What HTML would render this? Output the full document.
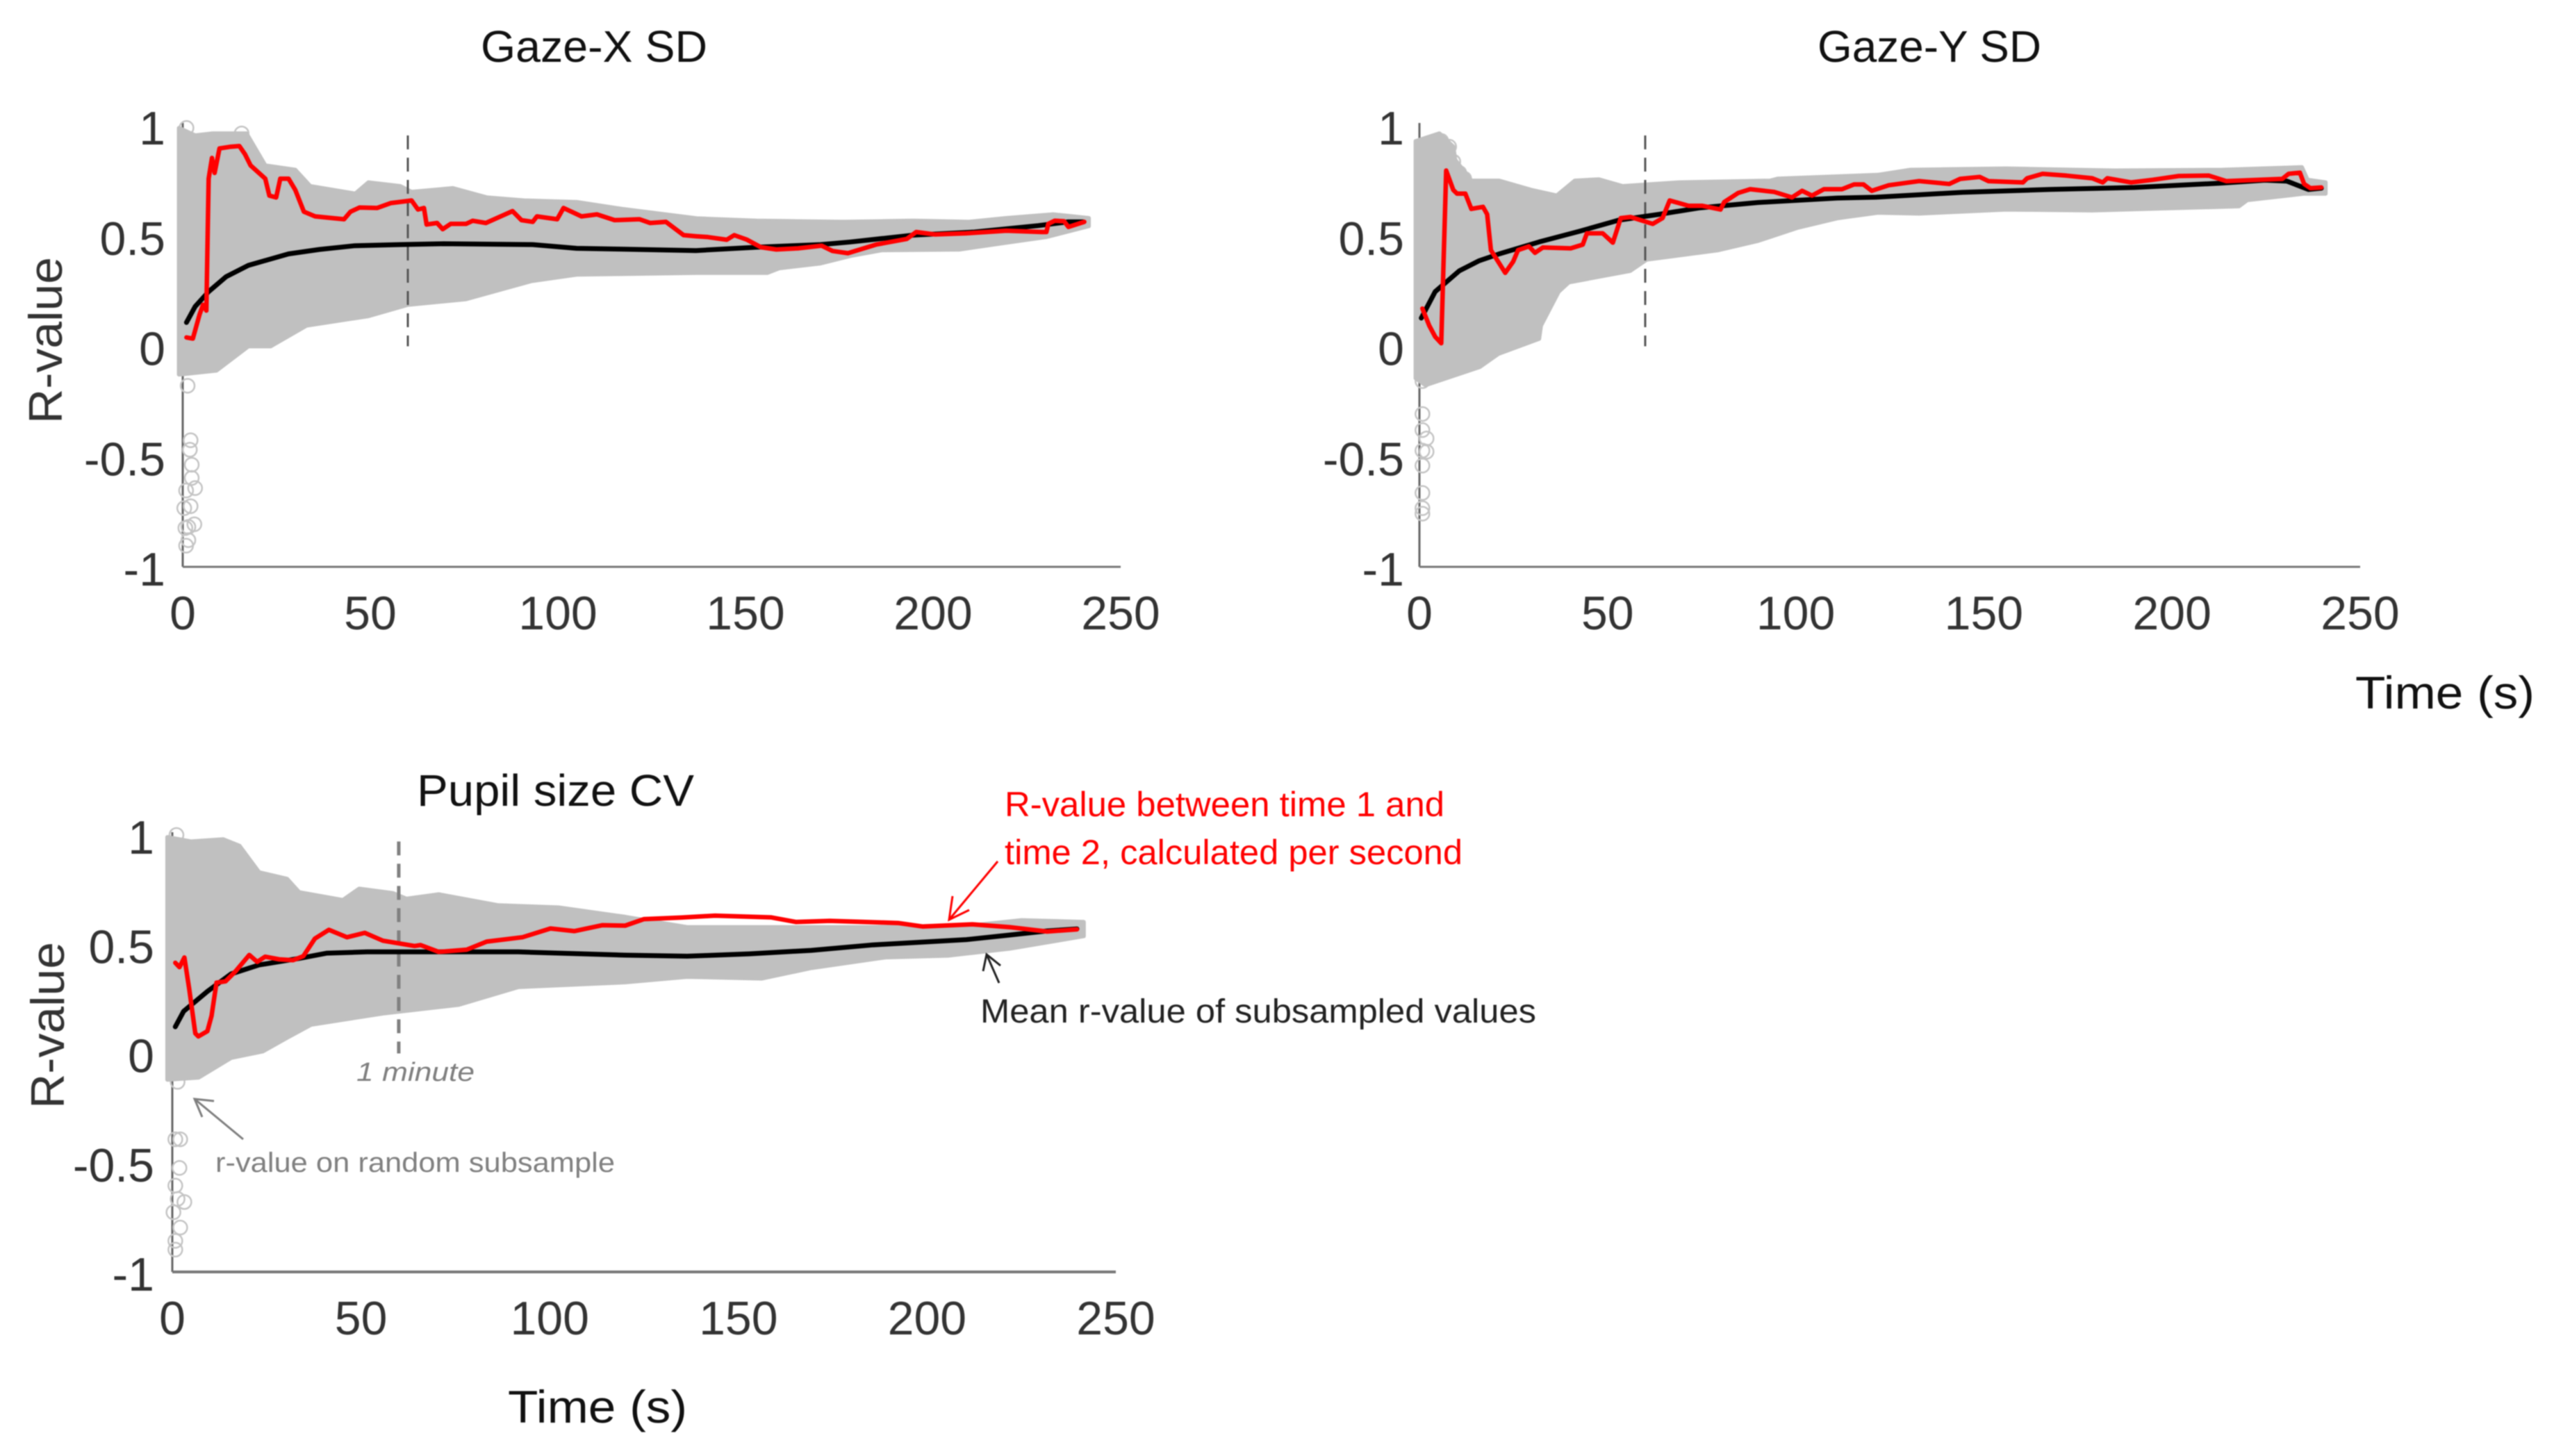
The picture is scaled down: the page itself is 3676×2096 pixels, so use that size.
<!DOCTYPE html>
<html lang="en">
<head>
<meta charset="utf-8">
<title>R-value reliability over time</title>
<style>
html,body{margin:0;padding:0;background:#fff;}
svg{display:block;font-family:"Liberation Sans",sans-serif;filter:blur(0.7px);}
</style>
</head>
<body>
<svg id="figure" xmlns="http://www.w3.org/2000/svg" width="3676" height="2096" viewBox="0 0 3676 2096">
<rect x="0" y="0" width="3676" height="2096" fill="#ffffff"/>
<text x="692" y="89" font-size="64" fill="#111" textLength="326" lengthAdjust="spacingAndGlyphs">Gaze-X SD</text>
<text x="2616" y="89" font-size="64" fill="#111" textLength="322" lengthAdjust="spacingAndGlyphs">Gaze-Y SD</text>
<text x="600" y="1160" font-size="64" fill="#111" textLength="399" lengthAdjust="spacingAndGlyphs">Pupil size CV</text>
<text x="3390" y="1020" font-size="66" fill="#111" textLength="258" lengthAdjust="spacingAndGlyphs">Time (s)</text>
<text x="731" y="2048" font-size="66" fill="#111" textLength="258" lengthAdjust="spacingAndGlyphs">Time (s)</text>
<text transform="translate(89,490) rotate(-90)" text-anchor="middle" font-size="68" fill="#333" textLength="240" lengthAdjust="spacingAndGlyphs">R-value</text>
<text transform="translate(92,1476) rotate(-90)" text-anchor="middle" font-size="68" fill="#333" textLength="240" lengthAdjust="spacingAndGlyphs">R-value</text>
<g id="plots"></g>
<text x="513" y="1556" font-size="38" font-style="italic" fill="#7f7f7f" textLength="170" lengthAdjust="spacingAndGlyphs">1 minute</text>
<text x="310" y="1687" font-size="40" fill="#808080" textLength="575" lengthAdjust="spacingAndGlyphs">r-value on random subsample</text>
<g fill="none" stroke="#7f7f7f" stroke-width="3"><path d="M350 1640 L280 1582"/><path d="M308 1585 L280 1582 L291 1608"/></g>
<text x="1446" y="1175" font-size="50" fill="#ff0000" textLength="633" lengthAdjust="spacingAndGlyphs">R-value between time 1 and</text>
<text x="1446" y="1244" font-size="50" fill="#ff0000" textLength="659" lengthAdjust="spacingAndGlyphs">time 2, calculated per second</text>
<g fill="none" stroke="#ff0000" stroke-width="3"><path d="M1436 1240 L1366 1324"/><path d="M1371 1290 L1366 1324 L1395 1310"/></g>
<g fill="none" stroke="#222" stroke-width="3"><path d="M1438 1415 L1420 1374"/><path d="M1415 1398 L1420 1374 L1440 1390"/></g>
<text x="1411" y="1472" font-size="48" fill="#222" textLength="800" lengthAdjust="spacingAndGlyphs">Mean r-value of subsampled values</text>
</svg>
<script>
var xTickValues = [0, 50, 100, 150, 200, 250];
var yTickValues = [1, 0.5, 0, -0.5, -1];
var yTickLabels = ['1', '0.5', '0', '-0.5', '-1'];
var oneMinuteTime = 60;

var gazeXRedTimes = [1,2.7,4.5,5.4,6.3,6.9,7.8,8.5,9.8,12.8,15.1,16.6,18.1,22,23.1,24.9,26,28.2,30,32.3,35.3,43,44.7,47.1,51.8,55.4,61,62.7,64.3,65,67.8,69.3,71.4,75.5,77.3,80.8,87.9,90.3,93.3,94.4,99.8,101.5,106.3,110.4,115.1,121.7,124.6,128.8,133.5,136.8,140,145,147,150.4,154.1,158.2,164,170.3,173.2,177.3,184.8,193,195.5,200.5,208.8,219.5,229,230.2,230.7,232.4,234.9,236.1,240.3];
var gazeXRedValues = [0.04,0.035,0.145,0.188,0.162,0.76,0.854,0.786,0.897,0.905,0.908,0.871,0.82,0.76,0.683,0.675,0.76,0.76,0.709,0.61,0.589,0.576,0.61,0.629,0.627,0.649,0.661,0.62,0.627,0.552,0.559,0.531,0.555,0.555,0.569,0.559,0.613,0.572,0.564,0.589,0.576,0.627,0.589,0.598,0.572,0.576,0.559,0.564,0.504,0.499,0.495,0.483,0.504,0.483,0.449,0.439,0.444,0.456,0.432,0.422,0.461,0.487,0.518,0.507,0.512,0.524,0.518,0.518,0.555,0.569,0.567,0.541,0.564];
var gazeXMeanTimes = [1,3.3,6.9,11.6,17.5,28.2,36.4,45.9,57.8,69.6,93.3,105,136.8,153,170,178,194.7,211,228,236,240];
var gazeXMeanValues = [0.108,0.18,0.248,0.316,0.367,0.419,0.439,0.456,0.461,0.465,0.461,0.444,0.434,0.449,0.461,0.473,0.504,0.518,0.547,0.564,0.564];
var gazeXUpperTimes = [-1,3.3,8,17,22,30,34,46,49.5,58,61,72,81,91,105,117,137,153,176,194.7,209.6,219.5,232,241.5];
var gazeXUpperValues = [0.99,0.956,0.965,0.965,0.82,0.8,0.726,0.692,0.743,0.726,0.7,0.717,0.675,0.661,0.654,0.623,0.58,0.569,0.564,0.569,0.564,0.581,0.598,0.581];
var gazeXLowerTimes = [-1,9,17.5,23.4,33,49.5,60,75.5,93,105,137,155.8,159,170,178,186.4,207,219.5,230.3,241.5];
var gazeXLowerValues = [-0.128,-0.11,0,0,0.094,0.137,0.188,0.214,0.296,0.325,0.333,0.333,0.354,0.376,0.41,0.436,0.439,0.47,0.496,0.545];
var gazeXOutlierTimes = [1,15.7,1.3,2.1,1.9,2.4,2.4,3.3,0.9,2.1,0.4,3.1,1.5,0.7,1.5,0.9];
var gazeXOutlierValues = [0.99,0.965,-0.179,-0.426,-0.469,-0.537,-0.597,-0.643,-0.654,-0.725,-0.734,-0.807,-0.819,-0.824,-0.879,-0.904];

var gazeYRedTimes = [0.8,2.6,4.2,5.8,7.1,9,10,12.2,13.8,16.9,18,19,22.8,24.9,26.2,29.1,30.7,32.8,40.2,43.4,44.5,48.7,51.4,53.5,56.1,62,64.6,66.5,71.5,75.2,80,81,84.7,87.9,94.3,99,101.7,104.3,107.5,112.3,115.5,118,120.2,124.7,132.8,140.8,143.7,148.9,151.2,160.4,161.5,165.6,171.9,178.8,181.6,182.8,189.1,194.9,201.8,209.8,214.4,229.3,231,234,235.1,236.8,239.7];
var gazeYRedValues = [0.171,0.094,0.043,0.014,0.797,0.709,0.692,0.692,0.623,0.632,0.598,0.436,0.333,0.384,0.436,0.453,0.424,0.448,0.444,0.461,0.512,0.512,0.47,0.581,0.586,0.555,0.581,0.661,0.637,0.637,0.62,0.654,0.695,0.712,0.7,0.675,0.705,0.683,0.712,0.712,0.734,0.734,0.705,0.73,0.749,0.736,0.759,0.768,0.749,0.743,0.762,0.782,0.774,0.762,0.743,0.762,0.743,0.755,0.772,0.774,0.749,0.759,0.782,0.787,0.736,0.717,0.72];
var gazeYMeanTimes = [0.5,4.2,10.6,15.9,21.2,31.8,42.4,53,63.6,74.2,90,111,121.3,144.3,167.3,190,213,224.7,230.5,236.3,239.7];
var gazeYMeanValues = [0.128,0.248,0.342,0.388,0.419,0.473,0.521,0.572,0.598,0.627,0.652,0.672,0.676,0.698,0.711,0.72,0.74,0.753,0.749,0.711,0.717];
var gazeYUpperTimes = [-1,5.3,9,9.5,13.8,21.2,29.7,36.5,41.3,47.7,54,68.9,93.2,95.3,121.8,130.5,155.8,184.5,213.3,234.5,236,240.8];
var gazeYUpperValues = [0.93,0.965,0.905,0.845,0.751,0.751,0.709,0.683,0.751,0.757,0.726,0.743,0.751,0.76,0.777,0.8,0.806,0.797,0.8,0.812,0.755,0.743];
var gazeYLowerTimes = [-1,1.6,16,21,31.8,32.3,37,39.7,56,60.4,79.4,90,100.6,111.2,121.8,132.8,155.8,178.8,217.8,220,235,240.8];
var gazeYLowerValues = [-0.145,-0.176,-0.094,-0.034,0.034,0.094,0.248,0.29,0.342,0.393,0.436,0.478,0.538,0.581,0.606,0.602,0.62,0.616,0.635,0.663,0.692,0.692];
var gazeYOutlierTimes = [5.8,7.9,1,3.2,9,10.6,11.9,0.8,0.8,0.8,1.9,0.8,1.9,0.8,0.8,0.8,0.8];
var gazeYOutlierValues = [0.931,0.905,0.905,0.914,0.837,0.786,0.76,-0.158,-0.307,-0.38,-0.418,-0.473,-0.478,-0.541,-0.665,-0.734,-0.759];

var pupilRedTimes = [0.8,1.9,3.2,4.5,6.1,6.9,9.3,10.4,11.7,14.1,16.7,20.4,22.5,24.6,28.3,32,34.7,37.8,41.5,46.3,51,55.8,64.2,65.8,70.6,78,83.3,92.8,100.2,106.5,113.9,120,125,134.8,143.8,158.6,165.2,174.2,192.3,198.9,212,221.9,231.8,239.7];
var pupilRedValues = [0.415,0.395,0.439,0.294,0.092,0.078,0.102,0.172,0.324,0.33,0.375,0.451,0.419,0.443,0.431,0.427,0.445,0.526,0.566,0.532,0.552,0.516,0.492,0.496,0.465,0.475,0.512,0.532,0.572,0.56,0.587,0.585,0.615,0.622,0.631,0.623,0.602,0.607,0.597,0.581,0.591,0.578,0.558,0.568];
var pupilMeanTimes = [0.8,3,9.3,15.6,23,33.6,41,51.6,70.6,91.7,120,136.4,152.9,169.3,185.7,210.4,221.9,231.8,239.7];
var pupilMeanValues = [0.122,0.193,0.284,0.364,0.405,0.435,0.459,0.465,0.465,0.465,0.45,0.445,0.456,0.472,0.497,0.521,0.542,0.561,0.57];
var pupilUpperTimes = [-1.3,5,13.5,17.8,23,30.4,33.6,45.2,49.5,58.4,62,70.6,86.4,102.3,120,136.4,159.4,185.7,212,225,241.5];
var pupilUpperValues = [0.99,0.97,0.98,0.95,0.829,0.799,0.738,0.702,0.754,0.734,0.708,0.728,0.678,0.668,0.625,0.578,0.578,0.578,0.586,0.61,0.602];
var pupilLowerTimes = [-1.3,7,15.6,24,30.4,36.8,55.8,75.9,91.7,120,136.4,156.2,169.3,189,205.5,221.9,241.5];
var pupilLowerValues = [-0.12,-0.11,-0.02,0.01,0.072,0.132,0.183,0.223,0.304,0.326,0.351,0.343,0.391,0.44,0.448,0.48,0.537];
var pupilOutlierTimes = [1.1,1.4,0.8,2.1,1.9,0.8,1.4,3.2,0.3,2.1,0.8,0.8];
var pupilOutlierValues = [1,-0.13,-0.393,-0.393,-0.524,-0.605,-0.666,-0.68,-0.727,-0.797,-0.858,-0.898];

var SVG_NS = 'http://www.w3.org/2000/svg';
var plots = document.getElementById('plots');

function make(parent, tag, attrs) {
  var el = document.createElementNS(SVG_NS, tag);
  for (var key in attrs) { el.setAttribute(key, attrs[key]); }
  parent.appendChild(el);
  return el;
}

function linePoints(times, values, xf, yf) {
  return times.map(function (t, i) { return xf(t).toFixed(1) + ',' + yf(values[i]).toFixed(1); }).join(' ');
}

function drawPanel(layout, series) {
  var xScale = function (t) { return layout.x0 + t * (layout.x1 - layout.x0) / 250; };
  var yScale = function (v) { return layout.yTop + (1 - v) * (layout.yBottom - layout.yTop) / 2; };

  var group = make(plots, 'g', {});
  
  

  var yAxis = make(group, 'line', { x1: layout.x0, x2: layout.x0, y1: layout.yTop - 4, y2: layout.yBottom, stroke: '#666', 'stroke-width': 3 });
  
  

  var xAxis = make(group, 'line', { x1: layout.x0, x2: layout.x1, y1: layout.yBottom, y2: layout.yBottom, stroke: '#777', 'stroke-width': layout.axisWidth });
  
  

  series.outlierTimes.forEach(function (t, i) {
    var c = make(group, 'circle', { cx: xScale(t), cy: yScale(series.outlierValues[i]), r: 10, fill: 'none', stroke: '#c4c4c4', 'stroke-width': 2.5 });
    
    
  });

  var upper = linePoints(series.upperTimes, series.upperValues, xScale, yScale);
  var lower = linePoints(series.lowerTimes.slice().reverse(), series.lowerValues.slice().reverse(), xScale, yScale);
  var band = make(group, 'polygon', { points: upper + ' ' + lower, fill: '#c0c0c0', stroke: '#c0c0c0', 'stroke-width': 6, 'stroke-linejoin': 'round' });
  
  

  var dash = make(group, 'line', { x1: xScale(oneMinuteTime), x2: xScale(oneMinuteTime), y1: yScale(layout.dashTop), y2: yScale(layout.dashBottom), stroke: layout.dashColor, 'stroke-width': layout.dashWidth, 'stroke-dasharray': '20 12' });
  
  

  var mean = make(group, 'polyline', { points: linePoints(series.meanTimes, series.meanValues, xScale, yScale), fill: 'none', stroke: '#000', 'stroke-width': 7, 'stroke-linejoin': 'round', 'stroke-linecap': 'round' });
  
  

  var red = make(group, 'polyline', { points: linePoints(series.redTimes, series.redValues, xScale, yScale), fill: 'none', stroke: '#ff0000', 'stroke-width': 6.5, 'stroke-linejoin': 'round', 'stroke-linecap': 'round' });
  
  

  xTickValues.forEach(function (tick) {
    var label = make(group, 'text', { x: xScale(tick), y: layout.xLabelY, 'text-anchor': 'middle', 'font-size': 68, fill: '#333' });
    label.textContent = String(tick);
    
    
  });

  yTickValues.forEach(function (tick, i) {
    var label = make(group, 'text', { x: layout.yLabelX, y: yScale(tick) + layout.yLabelOffset, 'text-anchor': 'end', 'font-size': 68, fill: '#333' });
    label.textContent = yTickLabels[i];
    
    
  });
}

drawPanel(
  { name: 'gaze-x', x0: 263, x1: 1613, yTop: 181, yBottom: 816, xLabelY: 906, yLabelX: 238, yLabelOffset: 27, axisWidth: 3, dashTop: 0.956, dashBottom: 0, dashColor: '#555', dashWidth: 3 },
  { redTimes: gazeXRedTimes, redValues: gazeXRedValues, meanTimes: gazeXMeanTimes, meanValues: gazeXMeanValues, upperTimes: gazeXUpperTimes, upperValues: gazeXUpperValues, lowerTimes: gazeXLowerTimes, lowerValues: gazeXLowerValues, outlierTimes: gazeXOutlierTimes, outlierValues: gazeXOutlierValues }
);
drawPanel(
  { name: 'gaze-y', x0: 2043, x1: 3397, yTop: 181, yBottom: 816, xLabelY: 906, yLabelX: 2021, yLabelOffset: 27, axisWidth: 3, dashTop: 0.956, dashBottom: 0, dashColor: '#555', dashWidth: 3 },
  { redTimes: gazeYRedTimes, redValues: gazeYRedValues, meanTimes: gazeYMeanTimes, meanValues: gazeYMeanValues, upperTimes: gazeYUpperTimes, upperValues: gazeYUpperValues, lowerTimes: gazeYLowerTimes, lowerValues: gazeYLowerValues, outlierTimes: gazeYOutlierTimes, outlierValues: gazeYOutlierValues }
);
drawPanel(
  { name: 'pupil', x0: 248, x1: 1606, yTop: 1202, yBottom: 1831, xLabelY: 1921, yLabelX: 222, yLabelOffset: 27, axisWidth: 4, dashTop: 0.97, dashBottom: 0, dashColor: '#808080', dashWidth: 5 },
  { redTimes: pupilRedTimes, redValues: pupilRedValues, meanTimes: pupilMeanTimes, meanValues: pupilMeanValues, upperTimes: pupilUpperTimes, upperValues: pupilUpperValues, lowerTimes: pupilLowerTimes, lowerValues: pupilLowerValues, outlierTimes: pupilOutlierTimes, outlierValues: pupilOutlierValues }
);
</script>
</body>
</html>
